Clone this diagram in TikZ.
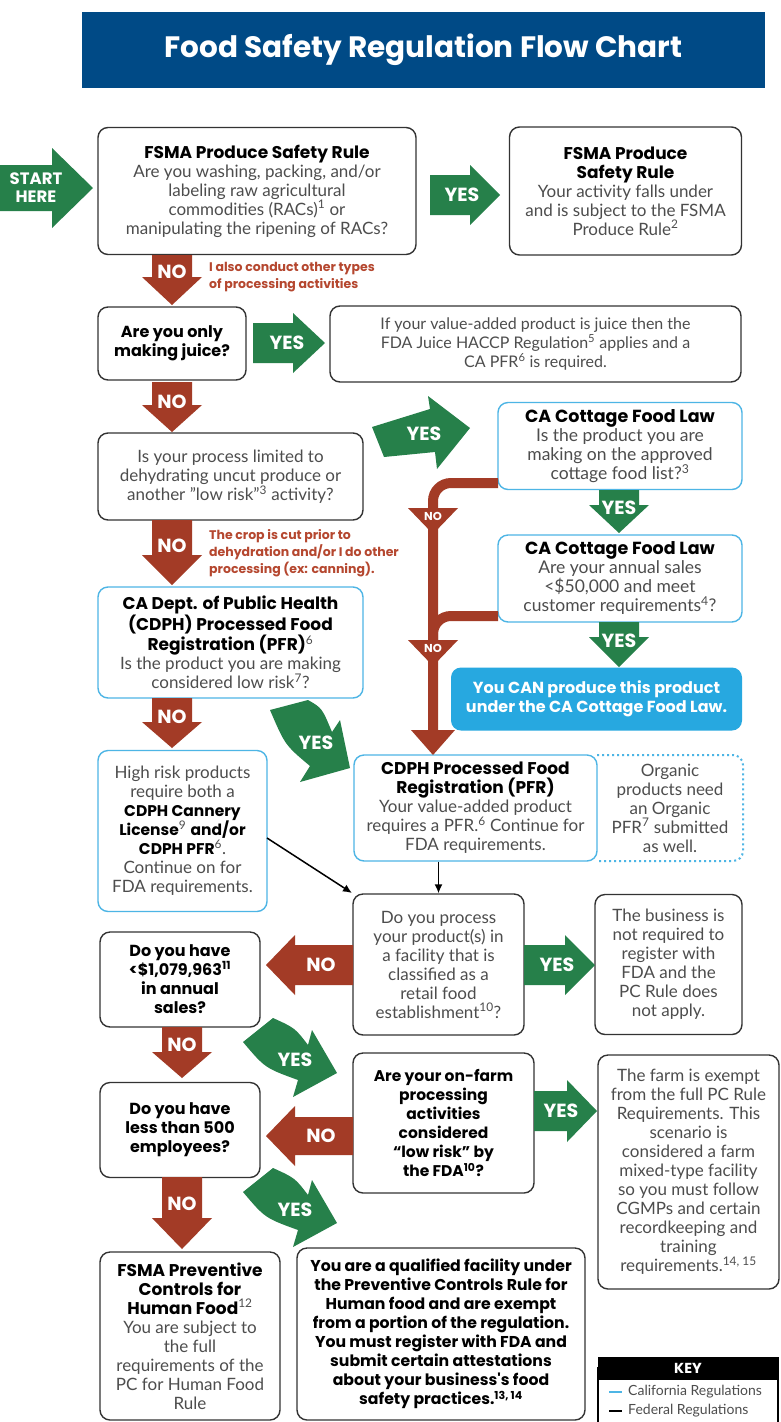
\documentclass[tikz,border=0pt]{standalone}
\usepackage{fontspec}
\setmainfont{Lato}
\newfontfamily\popfont{Poppins}
\usetikzlibrary{arrows.meta}
\definecolor{navy}{HTML}{004A86}
\definecolor{fgreen}{HTML}{26804A}
\definecolor{fred}{HTML}{A33B26}
\definecolor{cablue}{HTML}{4DB5E5}
\definecolor{cafill}{HTML}{27A8E0}
\definecolor{bodygray}{HTML}{4D4D4D}
\definecolor{fedgray}{HTML}{333333}
\definecolor{notered}{HTML}{B5472F}
\newcommand\bk[1]{{\popfont\bfseries\color{black}#1}}
\newcommand\bks[1]{{\popfont\bfseries\color{black}\fontsize{15.5}{19}\selectfont#1}}
\newcommand\sups[1]{\textsuperscript{#1}}
% right/left block arrow: color, x0, xh, xt, yc, shaft half, head half
\newcommand\rarr[7]{\fill[#1] (#2,#5-#6) -- (#3,#5-#6) -- (#3,#5-#7) -- (#4,#5) -- (#3,#5+#7) -- (#3,#5+#6) -- (#2,#5+#6) -- cycle;}
% down block arrow: color, xc, y0, yh, yt, shaft half, head half
\newcommand\darr[7]{\fill[#1] (#2-#6,#3) -- (#2-#6,#4) -- (#2-#7,#4) -- (#2,#5) -- (#2+#7,#4) -- (#2+#6,#4) -- (#2+#6,#3) -- cycle;}
\tikzset{
  box/.style={draw=fedgray, line width=1.4pt, rounded corners=10pt, align=center, fill=white,
    inner sep=2pt, text=bodygray, font=\fontsize{17}{19}\selectfont},
  cabox/.style={box, draw=cablue},
  cottbox/.style={cabox, font=\fontsize{17.5}{19}\selectfont},
  boldbox/.style={box, text=black, font=\popfont\bfseries\fontsize{16}{19}\selectfont},
  arrtxt/.style={text=white, font=\popfont\bfseries\fontsize{19}{19}\selectfont, inner sep=0pt},
  smallno/.style={text=white, font=\popfont\bfseries\fontsize{11.5}{11.5}\selectfont, inner sep=0pt},
  notetxt/.style={text=notered, font=\popfont\bfseries\fontsize{12.5}{17}\selectfont, align=left, anchor=west, inner sep=0pt},
}
\begin{document}
\begin{tikzpicture}[x=1pt,y=-1pt]
\useasboundingbox (0,0) rectangle (781,1422);
\fill[white] (0,0) rectangle (781,1422);
% title
\node[fill=navy, minimum width=683pt, minimum height=76pt, text=white,
  font=\popfont\bfseries\fontsize{29.5}{29.5}\selectfont] (title) at (423.5,50) {Food Safety Regulation Flow Chart};

% boxes
\node[box, minimum width=318pt, minimum height=127pt] (b1) at (257,191)
  {\bk{FSMA Produce Safety Rule}\\Are you washing, packing, and/or\\labeling raw agricultural\\commodities (RACs)\sups{1} or\\manipulating the ripening of RACs?};
\node[box, minimum width=232pt, minimum height=128pt] (b2) at (625.5,191)
  {\bk{FSMA Produce}\\\bk{Safety Rule}\\Your activity falls under\\and is subject to the FSMA\\Produce Rule\sups{2}};
\node[boldbox, minimum width=148pt, minimum height=73pt] (b3) at (172,343.5)
  {Are you only\\making juice?};
\node[box, minimum width=411pt, minimum height=76pt, font=\fontsize{16}{19}\selectfont] (b4) at (535.5,344)
  {If your value-added product is juice then the\\FDA Juice HACCP Regulation\sups{5} applies and a\\CA PFR\sups{6} is required.};
\node[box, minimum width=265pt, minimum height=87pt] (b5) at (230.5,476.5)
  {Is your process limited to\\dehydrating uncut produce or\\another "low risk"\sups{3} activity?};
\node[cabox, minimum width=265pt, minimum height=111pt] (b6) at (230.5,642.5)
  {\bk{CA Dept. of Public Health}\\\bk{(CDPH) Processed Food}\\\bk{Registration (PFR)}\sups{6}\\Is the product you are making\\considered low risk\sups{7}?};
\node[cabox, minimum width=169pt, minimum height=161pt] (b7) at (182.5,831)
  {High risk products\\require both a\\\bks{CDPH Cannery}\\\bks{License}\sups{9} \bks{and/or}\\\bks{CDPH PFR}\sups{6}.\\Continue on for\\FDA requirements.};
\node[cottbox, minimum width=244pt, minimum height=87pt] (b8) at (620,446)
  {\bk{CA Cottage Food Law}\\Is the product you are\\making on the approved\\cottage food list?\sups{3}};
\node[cottbox, minimum width=244pt, minimum height=87pt] (b9) at (620,578.5)
  {\bk{CA Cottage Food Law}\\Are your annual sales\\<\$50,000 and meet\\customer requirements\sups{4}?};
\node[box, draw=none, fill=cafill, minimum width=291pt, minimum height=63pt, text=white,
  font=\popfont\bfseries\fontsize{16}{19}\selectfont] (b10) at (596.5,699)
  {You CAN produce this product\\under the CA Cottage Food Law.};
\node[cabox, minimum width=243pt, minimum height=106pt] (b11) at (475.5,808)
  {\bk{CDPH Processed Food}\\\bk{Registration (PFR)}\\Your value-added product\\requires a PFR.\sups{6} Continue for\\FDA requirements.};
\draw[cablue, line width=2pt, dash pattern=on 2pt off 3pt, rounded corners=10pt] (597,755) -- (743,755) -- (743,861) -- (597,861);
\node[align=center, text=bodygray, font=\fontsize{17}{19}\selectfont] (org) at (670,808)
  {Organic\\products need\\an Organic\\PFR\sups{7} submitted\\as well.};
\node[box, minimum width=171pt, minimum height=141pt] (b12) at (438.5,964.5)
  {Do you process\\your product(s) in\\a facility that is\\classified as a\\retail food\\establishment\sups{10}?};
\node[box, minimum width=147pt, minimum height=140pt] (b13) at (668.5,964.5)
  {The business is\\not required to\\register with\\FDA and the\\PC Rule does\\not apply.};
\node[boldbox, minimum width=160pt, minimum height=95pt] (b14) at (180,979.5)
  {Do you have\\<\$1,079,963\sups{11}\\in annual\\sales?};
\node[boldbox, minimum width=160pt, minimum height=95pt] (b15) at (180,1130)
  {Do you have\\less than 500\\employees?};
\node[box, minimum width=180pt, minimum height=168pt] (b16) at (190,1336)
  {\bk{FSMA Preventive}\\\bk{Controls for}\\\bk{Human Food}\sups{12}\\You are subject to\\the full\\requirements of the\\PC for Human Food\\Rule};
\node[boldbox, minimum width=288pt, minimum height=172pt, font=\popfont\bfseries\fontsize{15.7}{19}\selectfont] (b17) at (441,1334)
  {You are a qualified facility under\\the Preventive Controls Rule for\\Human food and are exempt\\from a portion of the regulation.\\You must register with FDA and\\submit certain attestations\\about your business's food\\safety practices.\sups{13, 14}};
\node[boldbox, minimum width=181pt, minimum height=140pt, font=\popfont\bfseries\fontsize{15.5}{19}\selectfont] (b18) at (443.5,1123)
  {Are your on-farm\\processing\\activities\\considered\\“low risk” by\\the FDA\sups{10}?};
\node[box, minimum width=181pt, minimum height=234pt] (b19) at (688.5,1172)
  {The farm is exempt\\from the full PC Rule\\Requirements. This\\scenario is\\considered a farm\\mixed-type facility\\so you must follow\\CGMPs and certain\\recordkeeping and\\training\\requirements.\sups{14, 15}};

% key
\draw[black, line width=1.5pt] (598,1422) -- (598,1368) -- (778,1368) -- (778,1422);
\node[fill=black, minimum width=181pt, minimum height=23pt, text=white, font=\popfont\bfseries\fontsize{14.5}{14.5}\selectfont, inner sep=0pt] (key) at (688,1368.5) {KEY};
\draw[cablue, line width=2.5pt] (609,1392) -- (622,1392);
\draw[black, line width=2.5pt] (609,1411) -- (622,1411);
\node[anchor=west, text=bodygray, font=\fontsize{14}{14}\selectfont, inner sep=0pt] (kca) at (628,1392) {California Regulations};
\node[anchor=west, text=bodygray, font=\fontsize{14}{14}\selectfont, inner sep=0pt] (kfed) at (628,1411) {Federal Regulations};

% START HERE
\rarr{fgreen}{0}{52}{93}{188}{23}{40}
\node[arrtxt, align=center, font=\popfont\bfseries\fontsize{16.5}{18}\selectfont] (start) at (36,188) {START\\HERE};

% straight arrows
\rarr{fgreen}{430}{470}{500}{195}{20}{30}
\node[arrtxt] (y1) at (462,195) {YES};
\darr{fred}{172}{255}{277}{305}{20}{30}
\node[arrtxt] (n1) at (172,272) {NO};
\node[notetxt] (note1) at (209,277) {I also conduct other types\\of processing activities};
\rarr{fgreen}{253}{293}{325}{343}{20}{30}
\node[arrtxt] (y2) at (287,343) {YES};
\darr{fred}{172}{382}{405}{432}{20}{30}
\node[arrtxt] (n2) at (172,402) {NO};
\darr{fred}{172}{520}{555}{585}{20}{30}
\node[arrtxt] (n3) at (172,546) {NO};
\node[notetxt] (note2) at (209,553) {The crop is cut prior to\\dehydration and/or I do other\\processing (ex: canning).};
\darr{fred}{172}{698}{722}{748}{20}{30}
\node[arrtxt] (n4) at (172,717) {NO};

% cottage yes arrows
\darr{fgreen}{619}{490}{505}{533}{20}{30}
\node[arrtxt] (y3) at (619,508) {YES};
\darr{fgreen}{619}{622}{637}{667}{20}{30}
\node[arrtxt] (y4) at (619,641) {YES};

% tilted YES to cottage
\fill[fgreen] (372,427) -- (430,409) -- (428,396) -- (470,428) -- (437,469) -- (435,452) -- (384,457) -- cycle;
\node[arrtxt] (y5) at (424,434) {YES};

% cottage NO path
\coordinate (c8) at (498,483);
\coordinate (c9) at (498,616);
\coordinate (cend) at (433,731);
\draw[fred, line width=10pt, rounded corners=18pt] (c8) -- (433,483) -- (cend);
\draw[fred, line width=10pt, rounded corners=18pt] (c9) -- (433,616) -- (433,660);
\fill[fred] (408,508) -- (458,508) -- (433,534) -- cycle;
\node[smallno] (cn1) at (433,516) {NO};
\fill[fred] (408,640) -- (458,640) -- (433,666) -- cycle;
\node[smallno] (cn2) at (433,648) {NO};
\fill[fred] (411,730) -- (455,730) -- (433,755) -- cycle;

% curved YES from b6 to b11
\fill[fgreen] (270,710) -- (308,700) .. controls (322,708) .. (332,732) -- (340,720) -- (350,768) -- (300,782) -- (310,766) .. controls (285,745) .. (270,710) -- cycle;
\node[arrtxt] (y6) at (316,743) {YES};

% black arrows
\coordinate (k7) at (267,838);
\draw[black, line width=1.5pt, -{Latex[length=9pt,width=8pt]}] (k7) -- (352,893);
\draw[black, line width=1.5pt, -{Latex[length=9pt,width=8pt]}] (b12.north |- b11.south) -- (b12.north);

% b12 arrows
\rarr{fgreen}{524}{565}{595}{965}{20}{30}
\node[arrtxt] (y7) at (557,965) {YES};
\rarr{fred}{353}{295}{266}{965}{20}{30}
\node[arrtxt] (n5) at (321,965) {NO};

% b14 -> b15
\darr{fred}{182}{1027}{1052}{1078}{20}{30}
\node[arrtxt] (n6) at (182,1045) {NO};
% b15 -> b16
\darr{fred}{182}{1177}{1218}{1249}{20}{30}
\node[arrtxt] (n7) at (182,1204) {NO};

% b18 arrows
\rarr{fred}{353}{295}{266}{1136}{19}{30}
\node[arrtxt] (n8) at (321,1136) {NO};
\rarr{fgreen}{534}{567}{597}{1111}{20}{31}
\node[arrtxt] (y8) at (561,1111) {YES};

% curved YES arrows (b14 -> b18, b15 -> b17)
\fill[fgreen] (243,1042) -- (273,1018) .. controls (295,1028) .. (308,1045) -- (312,1030) -- (337,1073) -- (293,1097) -- (298,1080) .. controls (265,1068) .. (243,1042) -- cycle;
\node[arrtxt] (y9) at (295,1060) {YES};
\begin{scope}[shift={(0,150)}]
\fill[fgreen] (243,1042) -- (273,1018) .. controls (295,1028) .. (308,1045) -- (312,1030) -- (337,1073) -- (293,1097) -- (298,1080) .. controls (265,1068) .. (243,1042) -- cycle;
\node[arrtxt] (y10) at (295,1060) {YES};
\end{scope}
\end{tikzpicture}
\end{document}
